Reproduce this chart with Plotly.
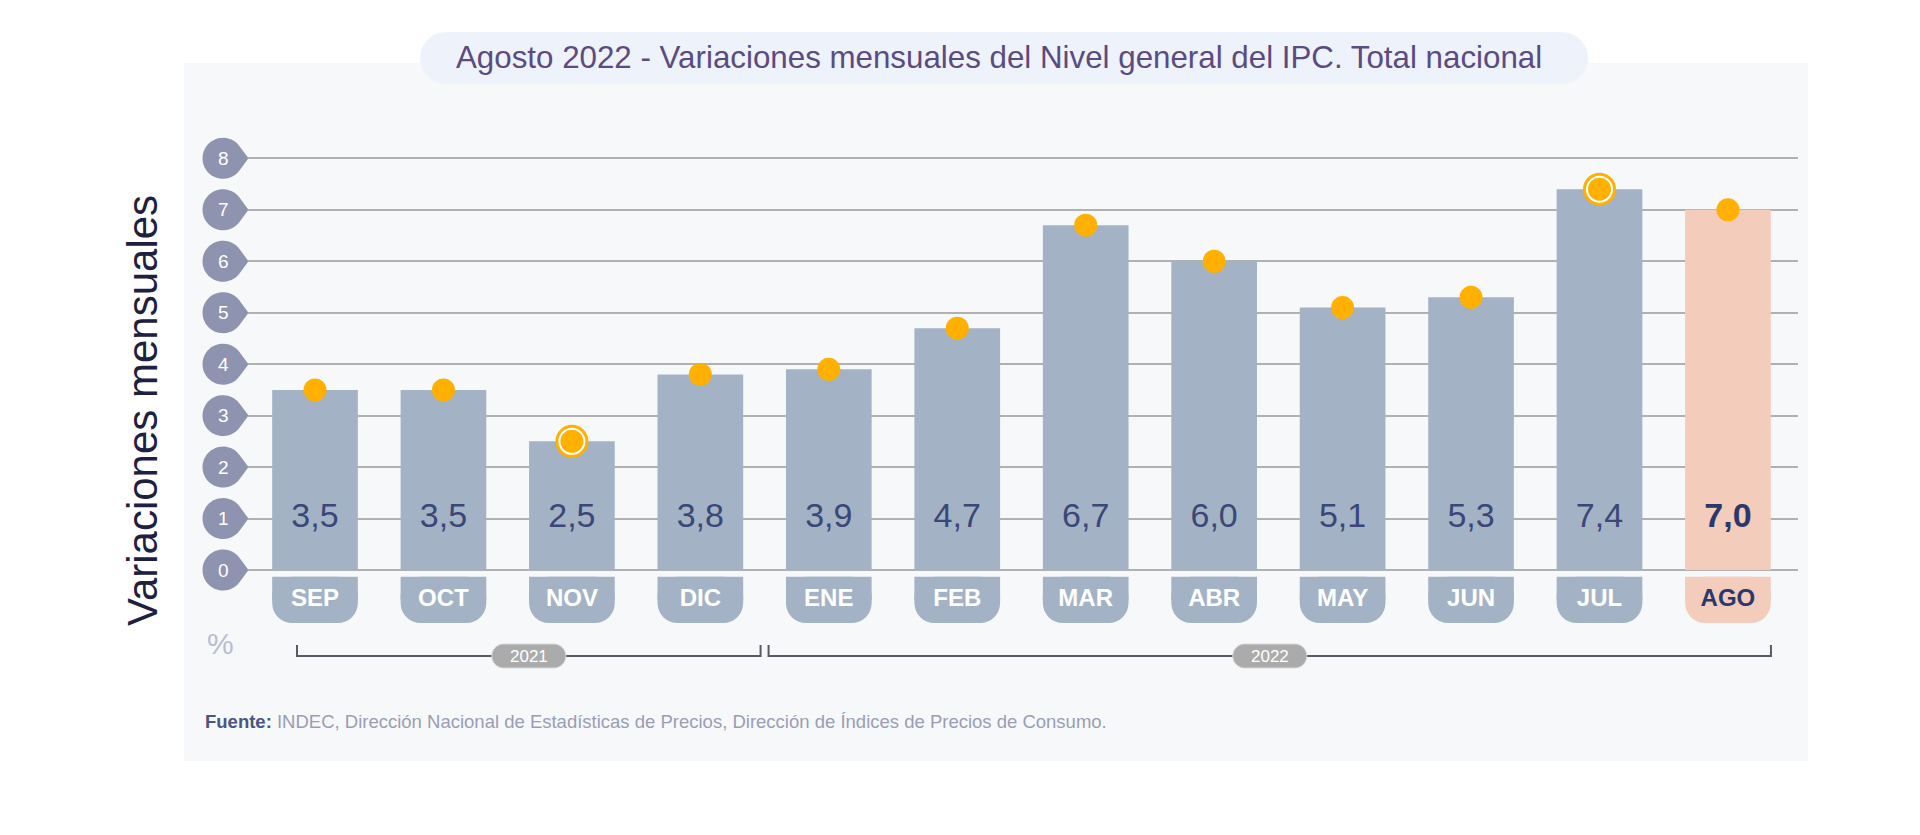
import numpy as np
import plotly.graph_objects as go

# ---------------- data ----------------
months = ["SEP", "OCT", "NOV", "DIC", "ENE", "FEB", "MAR", "ABR", "MAY", "JUN", "JUL", "AGO"]
years = ["2021", "2021", "2021", "2021", "2022", "2022", "2022", "2022", "2022", "2022", "2022", "2022"]
values = [3.5, 3.5, 2.5, 3.8, 3.9, 4.7, 6.7, 6.0, 5.1, 5.3, 7.4, 7.0]
ring_flags = [False, False, True, False, False, False, False, False, False, False, True, False]
current_flags = [False] * 11 + [True]
y_ticks = [0, 1, 2, 3, 4, 5, 6, 7, 8]
title_text = "Agosto 2022 - Variaciones mensuales del Nivel general del IPC. Total nacional"
y_title = "Variaciones mensuales"
unit_text = "%"
source_label = "Fuente:"
source_text = "INDEC, Dirección Nacional de Estadísticas de Precios, Dirección de Índices de Precios de Consumo."

# ---------------- geometry / style ----------------
W, H = 1920, 835
CENTER0, STEP = 315.0, 128.45     # pixel of first category, pixels per category
X_L, X_R = 248.0, 1798.0          # plot area in pixels
Y0_PX, UNIT = 570.0, 51.46        # pixel of value 0, pixels per unit
Y_MIN, Y_MAX = -1.2, 8.6
FONT = "Liberation Sans, Arial, sans-serif"

BAR_COL = "#a3b3c5"
CUR_COL = "#f3ccbb"
DOT_COL = "#ffb000"
NAVY = "#3b4778"
NAVY_D = "#2a386c"
BUBBLE = "#8e93b0"

def px(x):
    return x / W

def py(y):
    return 1 - y / H

def val_px(v):
    return Y0_PX - v * UNIT

def cat_px(i):
    return CENTER0 + STEP * i

xdom = [px(X_L), px(X_R)]
xrange = [(X_L - CENTER0) / STEP, (X_R - CENTER0) / STEP]
ydom = [py(val_px(Y_MIN)), py(val_px(Y_MAX))]

def rounded_rect_path(x0, y0, x1, y1, r, n=14):
    pts = []
    corners = [((x0 + r, y0 + r), 180, 270), ((x1 - r, y0 + r), 270, 360),
               ((x1 - r, y1 - r), 0, 90), ((x0 + r, y1 - r), 90, 180)]
    for (cx, cy), a0, a1 in corners:
        for a in np.linspace(np.radians(a0), np.radians(a1), n):
            pts.append((cx + r * np.cos(a), cy + r * np.sin(a)))
    return "M " + " L ".join(f"{px(x):.5f},{py(y):.5f}" for x, y in pts) + " Z"

def bubble_path(r=20.5, tip=25.5, n=40):
    th = np.arccos(r / tip)
    pts = [(tip, 0.0)]
    for a in np.linspace(th, 2 * np.pi - th, n):
        pts.append((r * np.cos(a), r * np.sin(a)))
    return "M " + " L ".join(f"{x:.2f},{y:.2f}" for x, y in pts) + " Z"

x_idx = list(range(len(months)))
bar_colors = [CUR_COL if c else BAR_COL for c in current_flags]
val_labels = [("<b>%s</b>" if c else "%s") % f"{v:.1f}".replace(".", ",")
              for v, c in zip(values, current_flags)]
val_colors = [NAVY_D if c else NAVY for c in current_flags]
tab_text_colors = [NAVY_D if c else "#ffffff" for c in current_flags]

fig = go.Figure()

# main bars
fig.add_trace(go.Bar(x=x_idx, y=values, width=0.667, marker=dict(color=bar_colors, line=dict(width=0)),
                     hoverinfo="skip", showlegend=False))
# month tabs (bars hanging below zero, rounded at their lower end)
tab_base = -(576.7 - Y0_PX) / UNIT
tab_len = -(623.0 - 576.7) / UNIT
fig.add_trace(go.Bar(x=x_idx, y=[tab_len] * len(months), base=tab_base, width=0.667,
                     marker=dict(color=bar_colors, cornerradius=20, line=dict(width=0)),
                     hoverinfo="skip", showlegend=False))
# square top half of the tabs, carrying the month names
fig.add_trace(go.Bar(x=x_idx, y=[tab_len * 0.5] * len(months), base=tab_base, width=0.667,
                     marker=dict(color=bar_colors, line=dict(width=0)),
                     hoverinfo="skip", showlegend=False))
fig.add_trace(go.Scatter(x=x_idx, y=[tab_base + tab_len * 0.5] * len(months), mode="text", text=months,
                         textposition="middle center",
                         textfont=dict(family=FONT, size=24, color=tab_text_colors, weight="bold"),
                         hoverinfo="skip", showlegend=False))
# value labels (row at level 1)
fig.add_trace(go.Scatter(x=x_idx, y=[1] * len(months), mode="text", text=val_labels,
                         textposition="middle center",
                         textfont=dict(family=FONT, size=34, color=val_colors),
                         hoverinfo="skip", showlegend=False))
# highlight rings
rx = [i for i, f in zip(x_idx, ring_flags) if f]
ry = [v for v, f in zip(values, ring_flags) if f]
fig.add_trace(go.Scatter(x=rx, y=ry, mode="markers",
                         marker=dict(size=30, color="#ffffff", line=dict(color=DOT_COL, width=3)),
                         hoverinfo="skip", showlegend=False, cliponaxis=False))
# dots
fig.add_trace(go.Scatter(x=x_idx, y=values, mode="markers",
                         marker=dict(size=23, color=DOT_COL, line=dict(width=0)),
                         hoverinfo="skip", showlegend=False, cliponaxis=False))

shapes = []
annotations = []

# background panel
shapes.append(dict(type="rect", xref="paper", yref="paper", x0=px(184), x1=px(1808), y0=py(761), y1=py(63),
                   fillcolor="#f7f8fa", line=dict(width=0), layer="below"))
# title pill
shapes.append(dict(type="path", xref="paper", yref="paper", path=rounded_rect_path(420, 32, 1588, 84, 26),
                   fillcolor="#eef2fa", line=dict(width=0), layer="below"))
annotations.append(dict(xref="paper", yref="paper", x=px(999), y=py(57), text=title_text, showarrow=False,
                        xanchor="center", yanchor="middle",
                        font=dict(family=FONT, size=31.3, color="#5b4b80")))

# y tick bubbles
bp = bubble_path()
for t in y_ticks:
    shapes.append(dict(type="path", xref="paper", yref="paper", xsizemode="pixel", ysizemode="pixel",
                       xanchor=px(223), yanchor=py(val_px(t)), path=bp,
                       fillcolor=BUBBLE, line=dict(width=0)))
    annotations.append(dict(xref="paper", yref="paper", x=px(223), y=py(val_px(t)), text=str(t),
                            showarrow=False, xanchor="center", yanchor="middle",
                            font=dict(family=FONT, size=19, color="#ffffff")))

# year brackets
year_names = []
for y in years:
    if y not in year_names:
        year_names.append(y)
for k, yname in enumerate(year_names):
    idxs = [i for i, y in enumerate(years) if y == yname]
    first, last = idxs[0], idxs[-1]
    xa = cat_px(first) - 18 if k == 0 else (cat_px(first - 1) + cat_px(first)) / 2 + 4
    xb = cat_px(last) + 43 if k == len(year_names) - 1 else (cat_px(last) + cat_px(last + 1)) / 2 - 4
    yl, yt = 656, 645
    shapes.append(dict(type="path", xref="paper", yref="paper",
                       path=f"M {px(xa)},{py(yt)} L {px(xa)},{py(yl)} L {px(xb)},{py(yl)} L {px(xb)},{py(yt)}",
                       line=dict(color="#575b63", width=2)))
    xm = (xa + xb) / 2
    shapes.append(dict(type="path", xref="paper", yref="paper",
                       path=rounded_rect_path(xm - 37, 644, xm + 37, 668, 12),
                       fillcolor="#ababab", line=dict(color="#d9d9d9", width=1)))
    annotations.append(dict(xref="paper", yref="paper", x=px(xm), y=py(656.5), text=yname, showarrow=False,
                            xanchor="center", yanchor="middle",
                            font=dict(family=FONT, size=17, color="#ffffff")))

# axis title, unit, source
annotations.append(dict(xref="paper", yref="paper", x=px(142), y=py(411), text=y_title, textangle=-90,
                        showarrow=False, xanchor="center", yanchor="middle",
                        font=dict(family=FONT, size=42, color="#1d2040")))
annotations.append(dict(xref="paper", yref="paper", x=px(220), y=py(643), text=unit_text,
                        showarrow=False, xanchor="center", yanchor="middle",
                        font=dict(family=FONT, size=30, color="#b9bdd1")))
annotations.append(dict(xref="paper", yref="paper", x=px(203), y=py(721),
                        text=f"<b><span style='color:#4a5585'>{source_label}</span></b> {source_text}",
                        showarrow=False, xanchor="left", yanchor="middle",
                        font=dict(family=FONT, size=18.5, color="#9a9db5")))

fig.update_layout(
    width=W, height=H, margin=dict(l=0, r=0, t=0, b=0),
    paper_bgcolor="#ffffff", plot_bgcolor="rgba(0,0,0,0)",
    barmode="overlay", hovermode=False, showlegend=False,
    xaxis=dict(domain=xdom, range=xrange, showgrid=False, zeroline=False, showticklabels=False,
               showline=False, ticks="", fixedrange=True),
    yaxis=dict(domain=ydom, range=[Y_MIN, Y_MAX], tickmode="array", tickvals=y_ticks, showgrid=True,
               gridcolor="#b1b1b4", gridwidth=2, zeroline=False, showticklabels=False, showline=False,
               ticks="", fixedrange=True),
    shapes=shapes, annotations=annotations,
)

fig.write_html("out.html", config={"displayModeBar": False},
               post_script="document.body.style.margin='0px';")
